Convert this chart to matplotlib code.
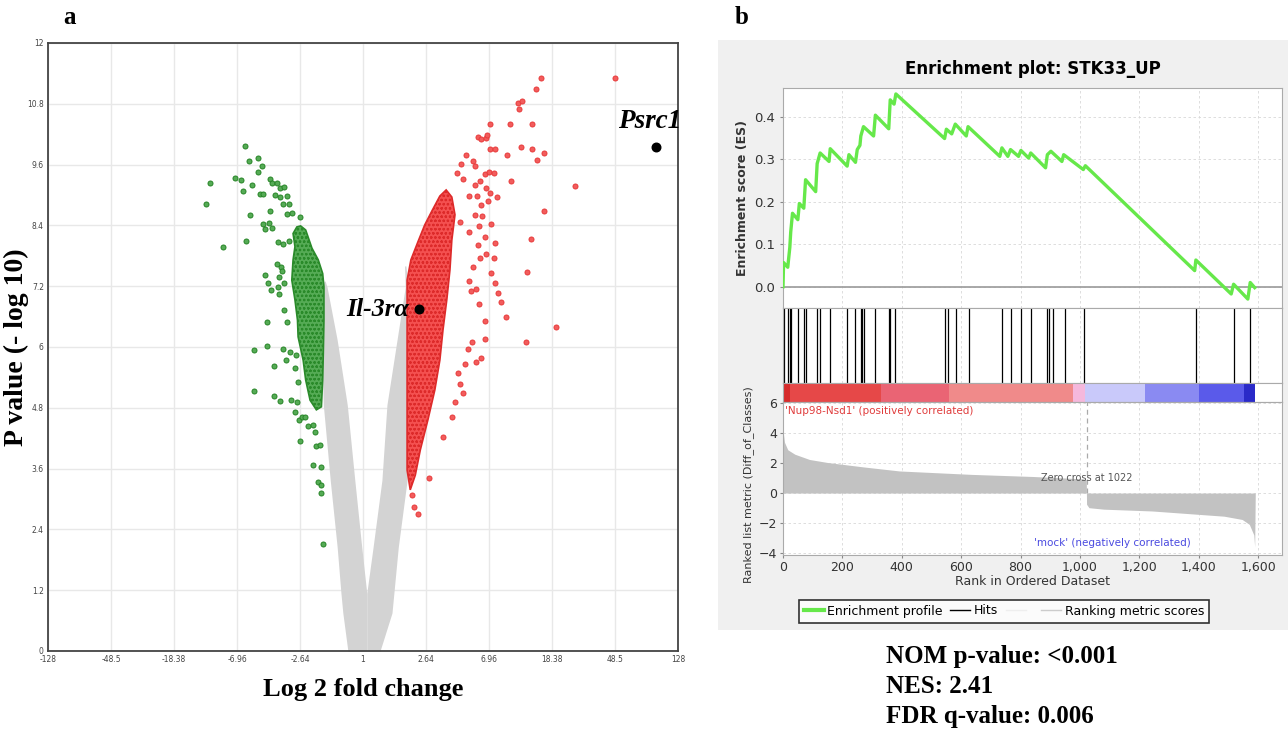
import matplotlib
matplotlib.use("Agg")
import matplotlib.pyplot as plt
from matplotlib.lines import Line2D
from matplotlib.patches import Rectangle

plt.rcParams["hatch.linewidth"] = 0.6

# ---- panel a: volcano plot (x in tick steps from the centre, y = -log10 P) ----
fc_ticks = [-5, -4, -3, -2, -1, 0, 1, 2, 3, 4, 5]
fc_labels = ["-128", "-48.5", "-18.38", "-6.96", "-2.64", "1", "2.64", "6.96", "18.38", "48.5", "128"]
p_ticks = [0, 1.2, 2.4, 3.6, 4.8, 6, 7.2, 8.4, 9.6, 10.8, 12]
p_labels = ["0", "1.2", "2.4", "3.6", "4.8", "6", "7.2", "8.4", "9.6", "10.8", "12"]

# grey cloud envelope (not significant genes)
grey_left_y = [7.3, 7.18, 6.14, 4.86, 3.37, 2.05, 1.14, 0.75, 0.0]
grey_left_outer = [-0.62, -0.64, -0.66, -0.63, -0.52, -0.41, -0.35, -0.32, -0.24]
grey_left_inner = [-0.60, -0.57, -0.41, -0.25, -0.13, -0.02, 0.06, 0.06, 0.06]
grey_right_y = [7.6, 7.18, 6.14, 4.86, 3.37, 2.05, 1.14, 0.75, 0.0]
grey_right_inner = [0.66, 0.67, 0.54, 0.38, 0.30, 0.16, 0.06, 0.06, 0.06]
grey_right_outer = [0.68, 0.72, 0.73, 0.72, 0.70, 0.56, 0.49, 0.46, 0.27]

# dense cores of significant genes
green_core_x = [-0.99, -0.91, -0.81, -0.71, -0.64, -0.62, -0.62, -0.63, -0.64, -0.66, -0.74,
                -0.84, -0.91, -0.95, -1.03, -1.04, -1.08, -1.13, -1.11, -1.08, -1.11, -1.05]
green_core_y = [8.39, 8.31, 7.95, 7.72, 7.45, 7.19, 6.53, 5.88, 5.35, 4.82, 4.76,
                4.95, 5.35, 5.74, 6.20, 6.53, 6.93, 7.32, 7.72, 7.98, 8.24, 8.37]
red_core_x = [1.32, 1.41, 1.46, 1.41, 1.38, 1.33, 1.27, 1.22, 1.14, 1.03, 0.91,
              0.83, 0.75, 0.70, 0.70, 0.70, 0.70, 0.76, 0.87, 0.98, 1.10, 1.22]
red_core_y = [9.10, 8.96, 8.61, 8.11, 7.52, 6.93, 6.34, 5.74, 5.15, 4.56, 3.97,
              3.47, 3.18, 3.57, 4.95, 6.34, 7.32, 7.72, 8.07, 8.41, 8.70, 8.98]

# scattered down-regulated genes
green_x = [-1.88, -1.81, -1.66, -1.61, -1.67, -2.43, -2.03, -1.94, -1.76, -1.47, -1.44, -1.37,
           -1.31, -1.26, -1.90, -1.64, -1.58, -1.40, -1.32, -1.21, -2.49, -1.27, -1.17, -1.48,
           -1.20, -1.12, -1.79, -1.00, -1.58, -1.50, -1.56, -1.44, -2.22, -1.85, -1.35, -1.27,
           -1.18, -1.37, -1.30, -1.29, -1.55, -1.33, -1.51, -1.35, -1.46, -1.26, -1.33, -1.25,
           -1.52, -1.21, -1.73, -1.52, -1.27, -1.42, -1.23, -1.16, -1.06, -1.08, -1.03, -1.73,
           -1.41, -1.31, -1.15, -1.05, -1.08, -1.01, -0.97, -0.92, -0.88, -0.80, -0.76, -1.00,
           -0.75, -0.68, -0.80, -0.66, -0.71, -0.66, -0.67, -0.64]
green_y = [9.97, 9.68, 9.73, 9.58, 9.46, 9.23, 9.33, 9.29, 9.20, 9.31, 9.23, 9.24,
           9.13, 9.16, 9.07, 9.01, 9.01, 9.00, 8.97, 8.98, 8.83, 8.82, 8.82, 8.68,
           8.62, 8.64, 8.61, 8.57, 8.42, 8.44, 8.32, 8.34, 7.97, 8.10, 8.07, 8.03,
           8.09, 7.64, 7.58, 7.50, 7.43, 7.38, 7.26, 7.18, 7.12, 7.27, 7.04, 6.74,
           6.50, 6.49, 5.94, 6.01, 5.96, 5.63, 5.74, 5.91, 5.85, 5.58, 5.30, 5.13,
           5.04, 4.93, 4.95, 4.92, 4.72, 4.55, 4.62, 4.62, 4.44, 4.46, 4.33, 4.14,
           4.05, 4.07, 3.67, 3.63, 3.33, 3.28, 3.12, 2.11]

# scattered up-regulated genes
red_x = [2.83, 2.75, 2.46, 2.52, 2.48, 2.02, 2.33, 2.68, 1.82, 1.87, 1.95, 1.97,
         1.64, 2.02, 2.10, 2.28, 2.50, 2.69, 2.88, 2.76, 1.74, 1.78, 1.55, 1.49,
         1.58, 1.85, 1.93, 2.00, 2.08, 2.35, 1.78, 1.95, 1.68, 2.01, 2.13, 1.81,
         1.98, 1.87, 2.88, 1.54, 1.78, 1.89, 2.03, 1.84, 1.69, 1.94, 2.66, 2.10,
         1.82, 1.96, 1.85, 2.08, 2.60, 2.03, 1.75, 1.68, 2.09, 1.71, 1.79, 2.15,
         2.19, 1.84, 2.27, 1.93, 3.06, 1.94, 2.59, 1.73, 1.67, 1.88, 1.79, 1.62,
         1.50, 1.54, 1.59, 1.46, 1.42, 1.27, 1.04, 0.88, 0.81, 0.78, 4.00, 3.37]
red_y = [11.31, 11.10, 10.81, 10.85, 10.70, 10.41, 10.40, 10.41, 10.14, 10.10, 10.12, 10.18,
         9.78, 9.90, 9.90, 9.78, 9.94, 9.91, 9.82, 9.70, 9.67, 9.57, 9.62, 9.43,
         9.32, 9.28, 9.41, 9.45, 9.43, 9.28, 9.20, 9.14, 8.99, 9.03, 8.96, 8.98,
         8.88, 8.81, 8.69, 8.47, 8.61, 8.58, 8.42, 8.38, 8.26, 8.17, 8.13, 8.05,
         8.01, 7.84, 7.75, 7.76, 7.49, 7.47, 7.57, 7.31, 7.27, 7.11, 7.14, 7.07,
         6.89, 6.84, 6.59, 6.51, 6.39, 6.16, 6.09, 6.09, 5.97, 5.79, 5.71, 5.67,
         5.49, 5.27, 5.09, 4.92, 4.62, 4.22, 3.42, 2.70, 2.85, 3.08, 11.31, 9.18]

genes = ["Psrc1", "Il-3r\u03b1"]
genes_x = [4.65, 0.89]
genes_y = [9.95, 6.75]

# ---- panel b: GSEA enrichment plot ----
es_rank = [0, 2, 16, 23, 26, 32, 50, 55, 70, 76, 110, 115, 125, 155, 159, 216, 222, 244, 250,
           259, 262, 271, 305, 311, 356, 361, 374, 380, 544, 550, 568, 580, 617, 623, 730, 737,
           757, 766, 793, 801, 827, 834, 884, 890, 902, 939, 945, 1011, 1018, 1386, 1390, 1509,
           1517, 1565, 1573, 1588]
es_score = [0.0, 0.057, 0.046, 0.093, 0.129, 0.173, 0.158, 0.196, 0.185, 0.252, 0.224, 0.290,
            0.315, 0.295, 0.325, 0.284, 0.311, 0.293, 0.323, 0.333, 0.355, 0.377, 0.355, 0.404,
            0.372, 0.440, 0.430, 0.454, 0.349, 0.371, 0.360, 0.383, 0.355, 0.377, 0.307, 0.327,
            0.307, 0.323, 0.307, 0.321, 0.303, 0.315, 0.280, 0.311, 0.319, 0.295, 0.311, 0.276,
            0.285, 0.038, 0.063, -0.017, 0.006, -0.029, 0.010, -0.002]
hits = [4, 18, 23, 28, 52, 72, 76, 113, 125, 158, 216, 244, 262, 267, 273, 310, 356, 359, 378,
        544, 554, 583, 625, 736, 766, 800, 835, 890, 895, 910, 951, 1014, 1390, 1518, 1573]
metric_rank = [0, 5, 16, 40, 89, 149, 271, 392, 635, 841, 1011, 1021, 1022, 1030, 1080, 1242,
               1485, 1546, 1570, 1585, 1588, 1590]
metric_value = [4.2, 3.4, 2.9, 2.6, 2.25, 2.05, 1.75, 1.48, 1.25, 1.11, 0.95, 0.9, -0.75, -0.98,
                -1.08, -1.2, -1.55, -1.77, -2.1, -2.8, -3.6, 0.0]
band_edges = [0, 25, 330, 560, 975, 1017, 1218, 1400, 1552, 1590]
band_colors = ["#d62a2a", "#e64848", "#ea6474", "#f08a8a", "#f5b8dc", "#c9c9fa", "#8a8af2",
               "#5a5aea", "#2a2ac8"]
zero_cross = 1022
rank_ticks = [0, 200, 400, 600, 800, 1000, 1200, 1400, 1600]
rank_labels = ["0", "200", "400", "600", "800", "1,000", "1,200", "1,400", "1,600"]
stats_lines = ["NOM p-value: <0.001", "NES: 2.41", "FDR q-value: 0.006"]

W, H = 1288, 733
fig = plt.figure(figsize=(W / 100, H / 100), dpi=100)
serif = "Liberation Serif"

# grey background of the GSEA screenshot
bg = Rectangle((718 / W, 1 - 630 / H), 570 / W, 590 / H, transform=fig.transFigure,
               facecolor="#f0f0f0", edgecolor="none", zorder=-10)
fig.add_artist(bg)

# ----- volcano -----
ax = fig.add_axes([48 / W, 1 - 651 / H, 630 / W, 608 / H])
ax.set_xlim(-5, 5)
ax.set_ylim(0, 12)
ax.set_xticks(fc_ticks)
ax.set_xticklabels(fc_labels)
ax.set_yticks(p_ticks)
ax.set_yticklabels(p_labels)
ax.tick_params(length=0, labelsize=5.5, labelcolor="#444", pad=3)
ax.grid(True, color="#e8e8e8", lw=1)
ax.set_axisbelow(True)
for s in ax.spines.values():
    s.set_color("#444")
    s.set_linewidth(1.3)

ax.fill_betweenx(grey_left_y, grey_left_outer, grey_left_inner, color="#d3d3d3", lw=0, zorder=2)
ax.fill_betweenx(grey_right_y, grey_right_inner, grey_right_outer, color="#d3d3d3", lw=0, zorder=2)
ax.fill(green_core_x, green_core_y, facecolor="#55ab55", edgecolor="#2a8a2a", lw=1.2,
        hatch="oooo", zorder=3)
ax.fill(red_core_x, red_core_y, facecolor="#f45050", edgecolor="#dd2a2a", lw=1.2,
        hatch="oooo", zorder=3)
ax.scatter(green_x, green_y, s=13, c="#55ab55", edgecolors="#268426", linewidths=0.7, zorder=4)
ax.scatter(red_x, red_y, s=13, c="#f25c5c", edgecolors="#e83a3a", linewidths=0.7, zorder=4)
ax.scatter(genes_x, genes_y, s=38, c="black", zorder=5)
ax.text(genes_x[0] - 0.1, genes_y[0] + 0.25, genes[0], family=serif, weight="bold", style="italic",
        fontsize=19.5, ha="center", va="bottom", zorder=6)
ax.text(genes_x[1] - 0.15, genes_y[1], genes[1], family=serif, weight="bold", style="italic",
        fontsize=18.5, ha="right", va="center", zorder=6)
ax.set_ylabel("P value (- log 10)", family=serif, weight="bold", fontsize=20)
ax.yaxis.set_label_coords(-0.03, 0.5)
ax.set_xlabel("Log 2 fold change", family=serif, weight="bold", fontsize=19, labelpad=10)

fig.text(70 / W, 1 - 18 / H, "a", family=serif, weight="bold", fontsize=18, ha="center", va="center")
fig.text(742 / W, 1 - 18 / H, "b", family=serif, weight="bold", fontsize=18, ha="center", va="center")

# ----- GSEA -----
x0, xw = 783 / W, 499 / W
xmax = 1680
grid_kw = dict(color="#d8d8d8", lw=0.6, ls=(0, (3, 3)))

ax_es = fig.add_axes([x0, 1 - 308 / H, xw, 220 / H])
ax_es.set_xlim(0, xmax)
ax_es.set_ylim(-0.05, 0.468)
ax_es.plot(es_rank, es_score, color="#66e84a", lw=2.4, zorder=3)
ax_es.axhline(0, color="#9a9a9a", lw=1.2, zorder=2)
ax_es.set_yticks([0.0, 0.1, 0.2, 0.3, 0.4])
ax_es.set_yticklabels(["0.0", "0.1", "0.2", "0.3", "0.4"])
ax_es.set_xticks(rank_ticks)
ax_es.tick_params(axis="x", labelbottom=False, length=0)
ax_es.tick_params(axis="y", labelsize=9.5, labelcolor="#333", length=2, color="#888")
ax_es.grid(True, **grid_kw)
ax_es.set_ylabel("Enrichment score (ES)", weight="bold", fontsize=9, color="#333", labelpad=4)
ax_es.set_title("Enrichment plot: STK33_UP", weight="bold", fontsize=12, pad=10)

ax_hit = fig.add_axes([x0, 1 - 383 / H, xw, 75 / H])
ax_hit.set_xlim(0, xmax)
ax_hit.set_ylim(0, 1)
ax_hit.vlines(hits, 0, 1, color="black", lw=0.9)
ax_hit.set_xticks(rank_ticks)
ax_hit.set_yticks([])
ax_hit.tick_params(labelbottom=False, length=0)
ax_hit.grid(True, axis="x", **grid_kw)

ax_band = fig.add_axes([x0, 1 - 402 / H, xw, 19 / H])
ax_band.set_xlim(0, xmax)
ax_band.set_ylim(0, 1)
for i, col in enumerate(band_colors):
    ax_band.axvspan(band_edges[i], band_edges[i + 1], color=col, lw=0)
ax_band.set_xticks([])
ax_band.set_yticks([])

ax_rk = fig.add_axes([x0, 1 - 555 / H, xw, 153 / H])
ax_rk.set_xlim(0, xmax)
ax_rk.set_ylim(-4.15, 6.1)
ax_rk.fill_between(metric_rank, 0, metric_value, color="#c2c2c2", lw=0, zorder=2)
ax_rk.axvline(zero_cross, ymin=0.405, ymax=1, color="#aaaaaa", lw=0.9, ls=(0, (4, 3)), zorder=3)
ax_rk.set_yticks([-4, -2, 0, 2, 4, 6])
ax_rk.set_xticks(rank_ticks)
ax_rk.set_xticklabels(rank_labels)
ax_rk.tick_params(labelsize=9, labelcolor="#333", length=2, color="#888", pad=2)
ax_rk.grid(True, **grid_kw)
ax_rk.set_axisbelow(True)
ax_rk.set_xlabel("Rank in Ordered Dataset", fontsize=9, color="#333", labelpad=1)
ax_rk.text(8, 5.8, "'Nup98-Nsd1' (positively correlated)", color="#e03c3c", fontsize=7.5,
           va="top", ha="left")
ax_rk.text(zero_cross, 1.0, "Zero cross at 1022", color="#555", fontsize=7, va="center", ha="center")
ax_rk.text(1110, -3.35, "'mock' (negatively correlated)", color="#4a4ae0", fontsize=7.5,
           va="center", ha="center")
fig.text(749 / W, 1 - 485 / H, "Ranked list metric (Diff_of_Classes)", rotation=90, fontsize=8,
         color="#333", ha="center", va="center")

for a in (ax_es, ax_hit, ax_band, ax_rk):
    for s in a.spines.values():
        s.set_color("#aaaaaa")
        s.set_linewidth(0.8)

handles = [Line2D([], [], color="#66e84a", lw=3), Line2D([], [], color="black", lw=1),
           Line2D([], [], color="#eeeeee", lw=1), Line2D([], [], color="#cccccc", lw=1)]
leg = fig.legend(handles, ["Enrichment profile", "Hits", " ", "Ranking metric scores"], ncol=4,
                 loc="center", bbox_to_anchor=(1004 / W, 1 - 611 / H), fontsize=9,
                 frameon=True, fancybox=False, edgecolor="black", handlelength=1.6,
                 handletextpad=0.3, columnspacing=0.6, borderpad=0.4, facecolor="white")
leg.get_frame().set_linewidth(1.2)

for i, line in enumerate(stats_lines):
    fig.text(886 / W, 1 - (656 + 30.5 * i) / H, line, family=serif, weight="bold", fontsize=18,
             ha="left", va="center")

fig.savefig("out.png", dpi=100)
